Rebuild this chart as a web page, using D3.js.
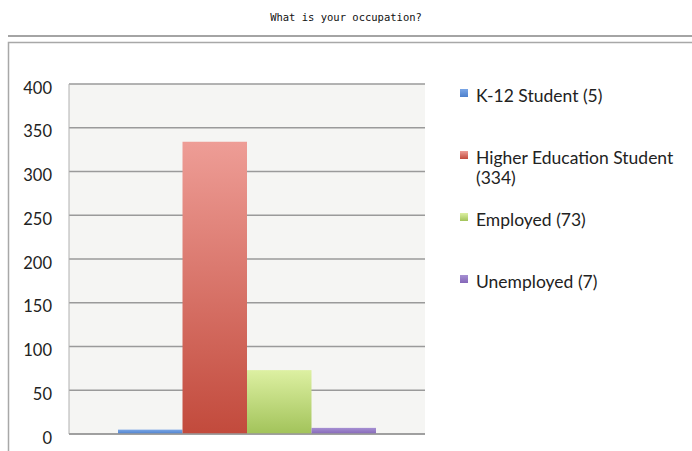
<!DOCTYPE html>
<html>
<head>
<meta charset="utf-8">
<script src="https://cdn.jsdelivr.net/npm/d3@7"></script>
<style>
  html, body { margin: 0; padding: 0; background: #fff; }
  svg { display: block; }
</style>
</head>
<body>
<svg id="chart" width="692" height="451"></svg>
<script>
// data
var categories = ["K-12 Student", "Higher Education Student", "Employed", "Unemployed"];
var counts = [5, 334, 73, 7];
var yTicks = [0, 50, 100, 150, 200, 250, 300, 350, 400];
var legendLines = [["K-12 Student (5)"], ["Higher Education Student", "(334)"], ["Employed (73)"], ["Unemployed (7)"]];
var topColors = ["#7aa6e6", "#ee9d96", "#ddf0a2", "#a690d2"];
var bottomColors = ["#4d80cc", "#c24a3c", "#a2c35a", "#8466b8"];

var svg = d3.select("#chart"),
    width = 692,
    height = 451;

var plot = { left: 69, right: 425, top: 84, bottom: 434 };

// title + rules
svg.append("text")
  .attr("x", 346).attr("y", 21)
  .attr("text-anchor", "middle")
  .style("font-family", "'DejaVu Sans Mono', monospace")
  .style("font-size", "10.5px")
  .style("fill", "#111")
  .text("What is your occupation?");

svg.append("rect").attr("x", 8).attr("y", 35).attr("width", width - 8).attr("height", 2).attr("fill", "#a4a4a4");
svg.append("rect").attr("x", 8.5).attr("y", 42.5).attr("width", width).attr("height", height).attr("fill", "#fff")
  .attr("stroke", "#a8a8a8").attr("stroke-width", 1.5);

// gradients
var defs = svg.append("defs");
categories.forEach(function (c, i) {
  var g = defs.append("linearGradient").attr("id", "g" + i)
    .attr("x1", 0).attr("y1", 0).attr("x2", 0).attr("y2", 1);
  g.append("stop").attr("offset", "0%").attr("stop-color", topColors[i]);
  g.append("stop").attr("offset", "100%").attr("stop-color", bottomColors[i]);
});

var x = d3.scaleBand()
  .domain(categories)
  .range([plot.left, plot.right])
  .paddingInner(0)
  .paddingOuter(0.76);

var y = d3.scaleLinear()
  .domain([0, 400])
  .range([plot.bottom, plot.top]);

svg.append("rect")
  .attr("x", plot.left).attr("y", plot.top)
  .attr("width", plot.right - plot.left).attr("height", plot.bottom - plot.top)
  .attr("fill", "#f5f5f3");

// gridlines
svg.append("g").selectAll("line").data(yTicks).enter().append("line")
  .attr("x1", plot.left).attr("x2", plot.right)
  .attr("y1", function (d) { return y(d); })
  .attr("y2", function (d) { return y(d); })
  .attr("stroke", "#9a9a9a").attr("stroke-width", 1.5);

svg.append("line")
  .attr("x1", plot.left).attr("x2", plot.left)
  .attr("y1", plot.top).attr("y2", plot.bottom)
  .attr("stroke", "#b0b0b0").attr("stroke-width", 1);

// y axis labels
var yAxis = d3.axisLeft(y).tickValues(yTicks).tickSize(0).tickPadding(17);
var ya = svg.append("g").attr("transform", "translate(" + plot.left + ",0)").call(yAxis);
ya.select(".domain").remove();
ya.selectAll("text")
  .attr("dy", "0.55em")
  .style("font-family", "Lato, 'Open Sans', sans-serif")
  .style("font-size", "16.5px")
  .style("fill", "#222");

// bars
svg.append("g").selectAll("rect").data(counts).enter().append("rect")
  .attr("x", function (d, i) { return x(categories[i]); })
  .attr("width", x.bandwidth())
  .attr("y", function (d) { return y(d); })
  .attr("height", function (d) { return y(0) - y(d); })
  .attr("fill", function (d, i) { return "url(#g" + i + ")"; });

svg.append("line")
  .attr("x1", plot.left).attr("x2", plot.right)
  .attr("y1", y(0)).attr("y2", y(0))
  .attr("stroke", "#9a9a9a").attr("stroke-width", 1.5);

// legend
var legendY = [96, 158, 220, 282];
var legend = svg.append("g").selectAll("g").data(legendLines).enter().append("g")
  .attr("transform", function (d, i) { return "translate(460," + legendY[i] + ")"; });

legend.append("rect")
  .attr("x", 0).attr("y", -7).attr("width", 8).attr("height", 8)
  .attr("fill", function (d, i) { return "url(#g" + i + ")"; });

legend.append("text")
  .attr("x", 16).attr("y", 6)
  .style("font-family", "Lato, 'Open Sans', sans-serif")
  .style("font-size", "17.5px")
  .style("fill", "#222")
  .selectAll("tspan").data(function (d) { return d; }).enter().append("tspan")
  .attr("x", 16)
  .attr("dy", function (d, i) { return i === 0 ? 0 : 20; })
  .text(function (d) { return d; });
</script>
</body>
</html>
